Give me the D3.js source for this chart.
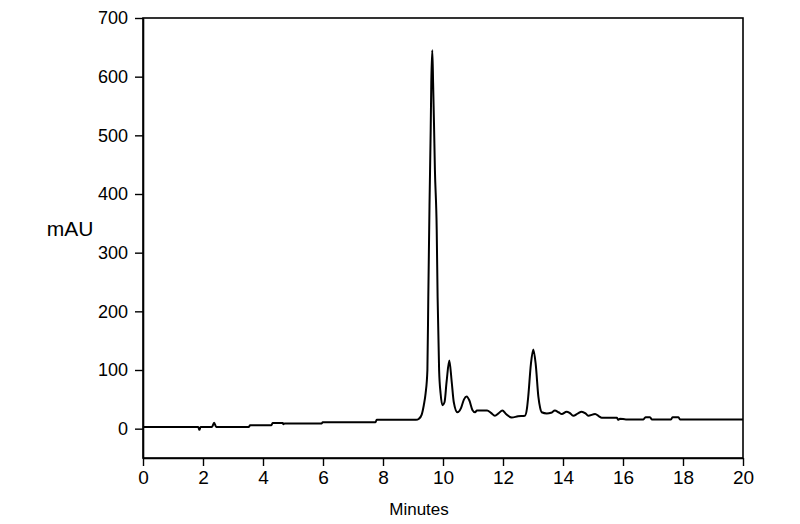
<!DOCTYPE html>
<html>
<head>
<meta charset="utf-8">
<script src="https://cdn.jsdelivr.net/npm/d3@7/dist/d3.min.js"></script>
<style>
  html, body { margin: 0; padding: 0; background: #fff; }
  svg { display: block; font-family: "Liberation Sans", Arial, sans-serif; }
</style>
</head>
<body>
<svg id="chart" width="800" height="524"></svg>
<script>
// Retention time (minutes)
const times = [
  0, 1.84, 1.88, 1.92, 2.30, 2.37, 2.44, 3.53, 3.57, 4.28, 4.32, 4.66, 4.68, 4.72,
  5.96, 5.99, 7.75, 7.79, 9.10, 9.20, 9.29, 9.36, 9.42, 9.48, 9.51, 9.55, 9.59, 9.61,
  9.643, 9.67, 9.70, 9.73, 9.79, 9.82, 9.87, 9.92, 9.98, 10.05, 10.12, 10.21, 10.29,
  10.36, 10.48, 10.60, 10.70, 10.79, 10.88, 10.98, 11.07, 11.13, 11.47, 11.60, 11.73,
  11.85, 11.98, 12.10, 12.29, 12.50, 12.73, 12.80, 12.84, 12.93, 13.01, 13.09, 13.18,
  13.24, 13.29, 13.46, 13.60, 13.73, 13.85, 13.96, 14.12, 14.22, 14.34, 14.50, 14.62,
  14.75, 14.84, 15.07, 15.20, 15.29, 15.80, 15.84, 15.90, 16.10, 16.68, 16.75, 16.90,
  16.96, 17.60, 17.65, 17.85, 17.90, 20.0
];
// Absorbance (mAU)
const mau = [
  3, 3, -2, 3, 3, 10, 3, 3, 6, 6, 9.5, 9.5, 7.5, 9,
  9, 11, 11, 15, 15, 17, 24, 40, 60, 100, 225, 380, 510, 590,
  645, 590, 520, 442, 340, 225, 100, 60, 40, 45, 80, 116, 80,
  45, 28, 35, 50, 55, 48, 32, 28, 31, 31, 27, 22,
  26, 31, 25, 19, 21, 22, 35, 54, 110, 135, 110, 54,
  35, 28, 26, 27, 31, 28, 25, 29, 27, 22, 26, 29,
  26, 22, 25, 21, 18.6, 18.6, 15, 17, 15.7, 15.7, 19.6, 19.6,
  15.7, 15.7, 19.6, 19.6, 15.7, 15.7
];
const xTicks = [0, 2, 4, 6, 8, 10, 12, 14, 16, 18, 20];
const yTicks = [0, 100, 200, 300, 400, 500, 600, 700];

const margin = {left: 143, top: 18, right: 57, bottom: 66};
const W = 800, H = 524;
const iw = W - margin.left - margin.right;
const ih = H - margin.top - margin.bottom;

const svg = d3.select("#chart");
const g = svg.append("g").attr("transform", `translate(${margin.left},${margin.top})`);

const x = d3.scaleLinear().domain([0, 20]).range([0, iw]);
const y = d3.scaleLinear().domain([-50, 700]).range([ih, 0]);

// frame
g.append("rect").attr("x", 0).attr("y", 0).attr("width", iw).attr("height", ih)
  .attr("fill", "none").attr("stroke", "#000").attr("stroke-width", 1.6);

const xAxis = g.append("g").attr("transform", `translate(0,${ih})`)
  .call(d3.axisBottom(x).tickValues(xTicks).tickSize(8).tickSizeOuter(0).tickPadding(5).tickFormat(d3.format("d")));
const yAxis = g.append("g")
  .call(d3.axisLeft(y).tickValues(yTicks).tickSize(8).tickSizeOuter(0).tickPadding(7).tickFormat(d3.format("d")));

[xAxis, yAxis].forEach(a => {
  a.select(".domain").attr("stroke", "#000").attr("stroke-width", 1.6);
  a.selectAll(".tick line").attr("stroke", "#000").attr("stroke-width", 1.4);
  a.selectAll(".tick text").attr("fill", "#000").style("font-size", "18px")
    .style("font-family", "'Liberation Sans', Arial, sans-serif");
});
xAxis.selectAll(".tick text").style("font-size", "19px");

const data = times.map((t, i) => [t, mau[i]]);
const line = d3.line().x(d => x(d[0])).y(d => y(d[1])).curve(d3.curveMonotoneX);
g.append("path").datum(data).attr("d", line)
  .attr("fill", "none").attr("stroke", "#000").attr("stroke-width", 2)
  .attr("stroke-linejoin", "round");

svg.append("text").attr("x", 70).attr("y", 236).attr("text-anchor", "middle")
  .style("font-size", "21px").attr("fill", "#000").text("mAU");
svg.append("text").attr("x", 419).attr("y", 515).attr("text-anchor", "middle")
  .style("font-size", "17px").attr("fill", "#000").text("Minutes");
</script>
</body>
</html>
